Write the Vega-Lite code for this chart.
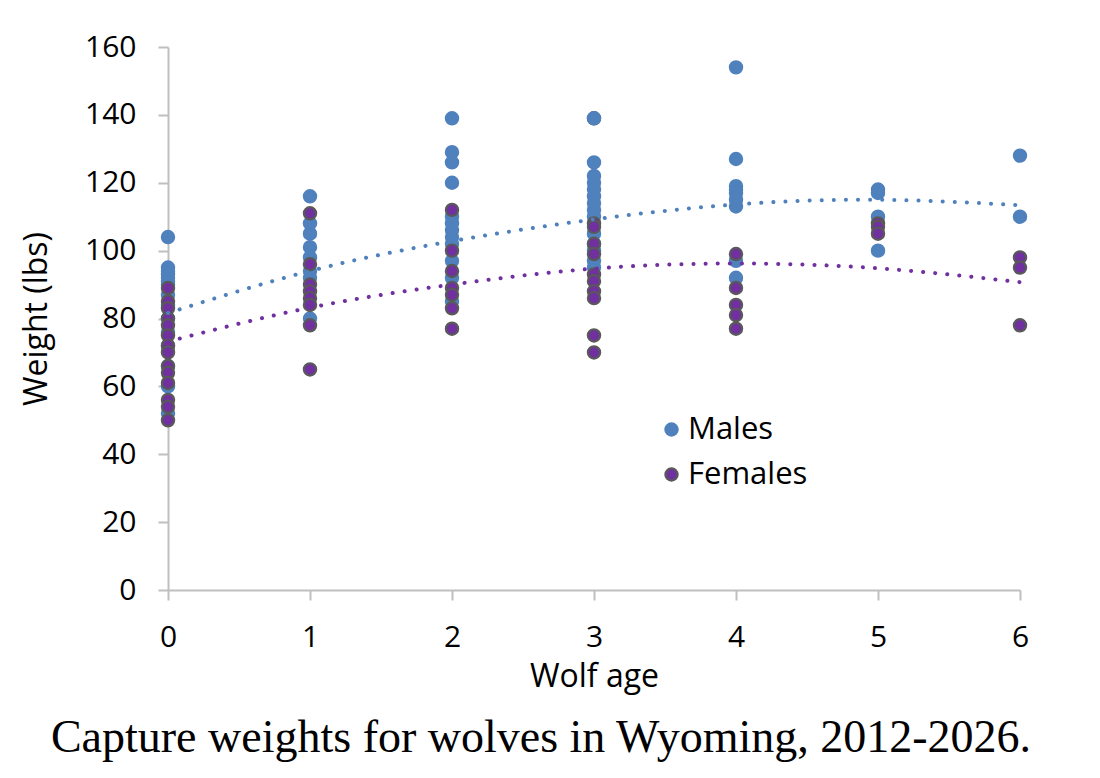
{
  "$schema": "https://vega.github.io/schema/vega-lite/v6.json",
  "width": 852,
  "height": 543,
  "autosize": {"type": "none"},
  "padding": {"left": 168, "top": 47, "right": 80, "bottom": 188},
  "background": "white",
  "title": {
    "text": "Capture weights for wolves in Wyoming, 2012-2026.",
    "orient": "bottom",
    "anchor": "middle",
    "font": "Liberation Serif",
    "fontSize": 46,
    "fontWeight": "normal",
    "color": "black",
    "offset": 24,
    "dx": -53
  },
  "config": {
    "view": {"stroke": null},
    "font": "Open Sans",
    "axis": {
      "grid": false,
      "domainColor": "#BFBFBF",
      "domainWidth": 2,
      "tickColor": "#BFBFBF",
      "tickWidth": 2,
      "tickSize": 10,
      "labelFont": "Open Sans",
      "labelFontSize": 30,
      "labelColor": "black",
      "labelPadding": 22,
      "labelFlush": false,
      "titleFont": "Open Sans",
      "titleFontSize": 32,
      "titleFontWeight": "normal",
      "titleColor": "black"
    }
  },
  "datasets": {
    "points": [
      {"age": 3, "weight": 139, "sex": "Females"},
      {"age": 0, "weight": 104, "sex": "Males"},
      {"age": 0, "weight": 95, "sex": "Males"},
      {"age": 0, "weight": 94, "sex": "Males"},
      {"age": 0, "weight": 93, "sex": "Males"},
      {"age": 0, "weight": 92, "sex": "Males"},
      {"age": 0, "weight": 91, "sex": "Males"},
      {"age": 0, "weight": 90, "sex": "Males"},
      {"age": 0, "weight": 87, "sex": "Males"},
      {"age": 0, "weight": 84, "sex": "Males"},
      {"age": 0, "weight": 80, "sex": "Males"},
      {"age": 0, "weight": 76, "sex": "Males"},
      {"age": 0, "weight": 72, "sex": "Males"},
      {"age": 0, "weight": 66, "sex": "Males"},
      {"age": 0, "weight": 60, "sex": "Males"},
      {"age": 0, "weight": 52, "sex": "Males"},
      {"age": 1, "weight": 116, "sex": "Males"},
      {"age": 1, "weight": 108, "sex": "Males"},
      {"age": 1, "weight": 105, "sex": "Males"},
      {"age": 1, "weight": 101, "sex": "Males"},
      {"age": 1, "weight": 98, "sex": "Males"},
      {"age": 1, "weight": 94, "sex": "Males"},
      {"age": 1, "weight": 92, "sex": "Males"},
      {"age": 1, "weight": 80, "sex": "Males"},
      {"age": 2, "weight": 139, "sex": "Males"},
      {"age": 2, "weight": 129, "sex": "Males"},
      {"age": 2, "weight": 126, "sex": "Males"},
      {"age": 2, "weight": 120, "sex": "Males"},
      {"age": 2, "weight": 110, "sex": "Males"},
      {"age": 2, "weight": 108, "sex": "Males"},
      {"age": 2, "weight": 106, "sex": "Males"},
      {"age": 2, "weight": 104, "sex": "Males"},
      {"age": 2, "weight": 102, "sex": "Males"},
      {"age": 2, "weight": 97, "sex": "Males"},
      {"age": 2, "weight": 92, "sex": "Males"},
      {"age": 2, "weight": 85, "sex": "Males"},
      {"age": 3, "weight": 139, "sex": "Males"},
      {"age": 3, "weight": 126, "sex": "Males"},
      {"age": 3, "weight": 122, "sex": "Males"},
      {"age": 3, "weight": 120, "sex": "Males"},
      {"age": 3, "weight": 118, "sex": "Males"},
      {"age": 3, "weight": 116, "sex": "Males"},
      {"age": 3, "weight": 114, "sex": "Males"},
      {"age": 3, "weight": 112, "sex": "Males"},
      {"age": 3, "weight": 110, "sex": "Males"},
      {"age": 3, "weight": 105, "sex": "Males"},
      {"age": 3, "weight": 102, "sex": "Males"},
      {"age": 3, "weight": 100, "sex": "Males"},
      {"age": 3, "weight": 97, "sex": "Males"},
      {"age": 3, "weight": 95, "sex": "Males"},
      {"age": 4, "weight": 154, "sex": "Males"},
      {"age": 4, "weight": 127, "sex": "Males"},
      {"age": 4, "weight": 119, "sex": "Males"},
      {"age": 4, "weight": 118, "sex": "Males"},
      {"age": 4, "weight": 117, "sex": "Males"},
      {"age": 4, "weight": 115, "sex": "Males"},
      {"age": 4, "weight": 113, "sex": "Males"},
      {"age": 4, "weight": 97, "sex": "Males"},
      {"age": 4, "weight": 92, "sex": "Males"},
      {"age": 5, "weight": 118, "sex": "Males"},
      {"age": 5, "weight": 117, "sex": "Males"},
      {"age": 5, "weight": 110, "sex": "Males"},
      {"age": 5, "weight": 100, "sex": "Males"},
      {"age": 6, "weight": 128, "sex": "Males"},
      {"age": 6, "weight": 110, "sex": "Males"},
      {"age": 0, "weight": 89, "sex": "Females"},
      {"age": 0, "weight": 85, "sex": "Females"},
      {"age": 0, "weight": 83, "sex": "Females"},
      {"age": 0, "weight": 80, "sex": "Females"},
      {"age": 0, "weight": 78, "sex": "Females"},
      {"age": 0, "weight": 75, "sex": "Females"},
      {"age": 0, "weight": 72, "sex": "Females"},
      {"age": 0, "weight": 70, "sex": "Females"},
      {"age": 0, "weight": 66, "sex": "Females"},
      {"age": 0, "weight": 64, "sex": "Females"},
      {"age": 0, "weight": 61, "sex": "Females"},
      {"age": 0, "weight": 56, "sex": "Females"},
      {"age": 0, "weight": 54, "sex": "Females"},
      {"age": 0, "weight": 50, "sex": "Females"},
      {"age": 1, "weight": 111, "sex": "Females"},
      {"age": 1, "weight": 96, "sex": "Females"},
      {"age": 1, "weight": 90, "sex": "Females"},
      {"age": 1, "weight": 88, "sex": "Females"},
      {"age": 1, "weight": 86, "sex": "Females"},
      {"age": 1, "weight": 84, "sex": "Females"},
      {"age": 1, "weight": 78, "sex": "Females"},
      {"age": 1, "weight": 65, "sex": "Females"},
      {"age": 2, "weight": 112, "sex": "Females"},
      {"age": 2, "weight": 100, "sex": "Females"},
      {"age": 2, "weight": 94, "sex": "Females"},
      {"age": 2, "weight": 89, "sex": "Females"},
      {"age": 2, "weight": 87, "sex": "Females"},
      {"age": 2, "weight": 83, "sex": "Females"},
      {"age": 2, "weight": 77, "sex": "Females"},
      {"age": 3, "weight": 108, "sex": "Females"},
      {"age": 3, "weight": 107, "sex": "Females"},
      {"age": 3, "weight": 102, "sex": "Females"},
      {"age": 3, "weight": 99, "sex": "Females"},
      {"age": 3, "weight": 93, "sex": "Females"},
      {"age": 3, "weight": 91, "sex": "Females"},
      {"age": 3, "weight": 88, "sex": "Females"},
      {"age": 3, "weight": 86, "sex": "Females"},
      {"age": 3, "weight": 75, "sex": "Females"},
      {"age": 3, "weight": 70, "sex": "Females"},
      {"age": 4, "weight": 99, "sex": "Females"},
      {"age": 4, "weight": 89, "sex": "Females"},
      {"age": 4, "weight": 84, "sex": "Females"},
      {"age": 4, "weight": 81, "sex": "Females"},
      {"age": 4, "weight": 77, "sex": "Females"},
      {"age": 5, "weight": 108, "sex": "Females"},
      {"age": 5, "weight": 107, "sex": "Females"},
      {"age": 5, "weight": 105, "sex": "Females"},
      {"age": 6, "weight": 98, "sex": "Females"},
      {"age": 6, "weight": 95, "sex": "Females"},
      {"age": 6, "weight": 78, "sex": "Females"}
    ],
    "trend": [
      {"age": 0, "weight": 81.6, "sex": "Males"},
      {"age": 1, "weight": 94.0, "sex": "Males"},
      {"age": 2, "weight": 102.8, "sex": "Males"},
      {"age": 3, "weight": 109.2, "sex": "Males"},
      {"age": 4, "weight": 113.6, "sex": "Males"},
      {"age": 5, "weight": 115.0, "sex": "Males"},
      {"age": 6, "weight": 113.4, "sex": "Males"},
      {"age": 0, "weight": 73.2, "sex": "Females"},
      {"age": 1, "weight": 83.2, "sex": "Females"},
      {"age": 2, "weight": 90.0, "sex": "Females"},
      {"age": 3, "weight": 94.7, "sex": "Females"},
      {"age": 4, "weight": 96.2, "sex": "Females"},
      {"age": 5, "weight": 94.8, "sex": "Females"},
      {"age": 6, "weight": 90.7, "sex": "Females"}
    ]
  },
  "layer": [
    {
      "data": {"name": "points"},
      "mark": {"type": "circle", "size": 150, "strokeWidth": 2.2, "opacity": 1},
      "encoding": {
        "x": {
          "field": "age",
          "type": "quantitative",
          "scale": {"domain": [0, 6], "nice": false, "zero": false},
          "axis": {"values": [0, 1, 2, 3, 4, 5, 6], "title": "Wolf age", "titlePadding": 9, "format": "d"}
        },
        "y": {
          "field": "weight",
          "type": "quantitative",
          "scale": {"domain": [0, 160], "nice": false},
          "axis": {"values": [0, 20, 40, 60, 80, 100, 120, 140, 160], "title": "Weight (lbs)", "titlePadding": 31, "format": "d"}
        },
        "fill": {
          "field": "sex",
          "type": "nominal",
          "scale": {"domain": ["Males", "Females"], "range": ["#4F81BD", "#7030A0"]},
          "legend": {
            "title": null,
            "orient": "none",
            "legendX": 488,
            "legendY": 367,
            "symbolType": "circle",
            "symbolSize": 150,
            "symbolStrokeWidth": 2.2,
            "labelFont": "Open Sans",
            "labelFontSize": 31,
            "labelColor": "black",
            "labelOffset": 1,
            "rowPadding": 13
          }
        },
        "stroke": {
          "field": "sex",
          "type": "nominal",
          "scale": {"domain": ["Males", "Females"], "range": ["#4F81BD", "#595959"]},
          "legend": {
            "title": null,
            "orient": "none",
            "legendX": 488,
            "legendY": 367,
            "symbolType": "circle",
            "symbolSize": 150,
            "symbolStrokeWidth": 2.2,
            "labelFont": "Open Sans",
            "labelFontSize": 31,
            "labelColor": "black",
            "labelOffset": 1,
            "rowPadding": 13
          }
        }
      }
    },
    {
      "data": {"name": "trend"},
      "transform": [{"filter": "datum.sex === 'Males'"}],
      "mark": {"type": "line", "interpolate": "natural", "color": "#4F81BD", "strokeWidth": 4, "strokeDash": [0.1, 12], "strokeCap": "round"},
      "encoding": {
        "x": {"field": "age", "type": "quantitative"},
        "y": {"field": "weight", "type": "quantitative"}
      }
    },
    {
      "data": {"name": "trend"},
      "transform": [{"filter": "datum.sex === 'Females'"}],
      "mark": {"type": "line", "interpolate": "natural", "color": "#7030A0", "strokeWidth": 4, "strokeDash": [0.1, 12], "strokeCap": "round"},
      "encoding": {
        "x": {"field": "age", "type": "quantitative"},
        "y": {"field": "weight", "type": "quantitative"}
      }
    }
  ]
}
